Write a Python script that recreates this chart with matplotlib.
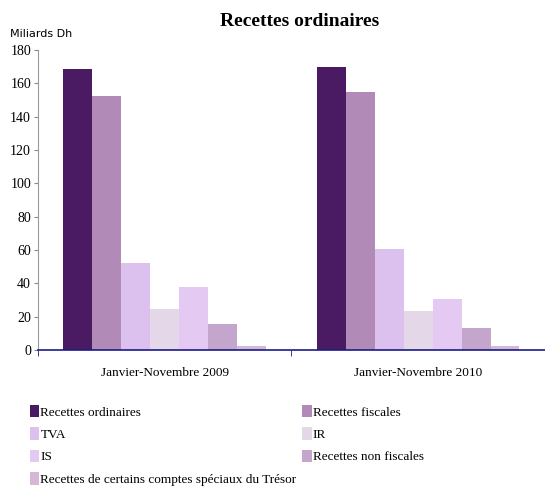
import numpy as np
import matplotlib
matplotlib.use('Agg')
import matplotlib.pyplot as plt

# Data (milliards Dh)
periods = ['Janvier-Novembre 2009', 'Janvier-Novembre 2010']
series = ['Recettes ordinaires', 'Recettes fiscales', 'TVA', 'IR', 'IS',
          'Recettes non fiscales',
          'Recettes de certains comptes spéciaux du Trésor']
values = [
    [168.6, 169.8],
    [152.4, 155.0],
    [52.0, 60.6],
    [24.4, 23.4],
    [37.8, 30.6],
    [15.6, 13.4],
    [2.4, 2.6],
]
colors = ['#4A1A62', '#B28AB8', '#DCC0EE', '#E4D8E8', '#E4CAF2',
          '#C4A6CC', '#D4B8D6']

plt.rcParams['font.family'] = ['Liberation Serif', 'DejaVu Serif']

fig = plt.figure(figsize=(5.45, 4.86), dpi=100)
ax = fig.add_axes([0.0697, 0.2798, 0.93, 0.6172])

n = len(series)
group_w = 0.8
w = group_w / n
x = np.arange(len(periods))
bars = []
for i, (name, vals, c) in enumerate(zip(series, values, colors)):
    off = -group_w / 2 + w * (i + 0.5)
    b = ax.bar(x + off, vals, width=w, color=c, label=name, linewidth=0)
    bars.append(b)

ax.set_xlim(-0.5, 1.5)
ax.set_ylim(0, 180)
ax.set_yticks(range(0, 181, 20))
ax.set_xticks(x)
ax.set_xticklabels(periods, fontsize=9.5)
ax.set_xticks([-0.5, 0.5, 1.5], minor=True)
ax.tick_params(axis='x', which='major', length=0, pad=12)
ax.tick_params(axis='x', which='minor', length=4, color='#1A1A8C', direction='out')
ax.tick_params(axis='y', length=3, color='#888888', labelsize=10, pad=2)

for s in ['top', 'right']:
    ax.spines[s].set_visible(False)
ax.spines['left'].set_color('#999999')
ax.spines['bottom'].set_color('#1A1A8C')
ax.spines['bottom'].set_linewidth(1.2)

fig.text(0.55, 0.955, 'Recettes ordinaires', ha='center', va='center',
         fontsize=14, fontweight='bold')
fig.text(0.018, 0.93, 'Miliards Dh', ha='left', va='center', fontsize=8,
         family=['Liberation Sans Narrow', 'DejaVu Sans'])

# legend laid out in two columns, row-major like the reference
leg_kw = dict(loc='upper left', frameon=False, fontsize=9.5,
              handlelength=0.7, handleheight=1.1, handletextpad=0.1,
              labelspacing=0.65, borderaxespad=0)
left_idx = [0, 2, 4, 6]
right_idx = [1, 3, 5]
fig.legend([bars[k] for k in left_idx], [series[k] for k in left_idx],
           bbox_to_anchor=(0.045, 0.178), **leg_kw)
fig.legend([bars[k] for k in right_idx], [series[k] for k in right_idx],
           bbox_to_anchor=(0.545, 0.178), **leg_kw)

fig.savefig('out.png', dpi=100)
